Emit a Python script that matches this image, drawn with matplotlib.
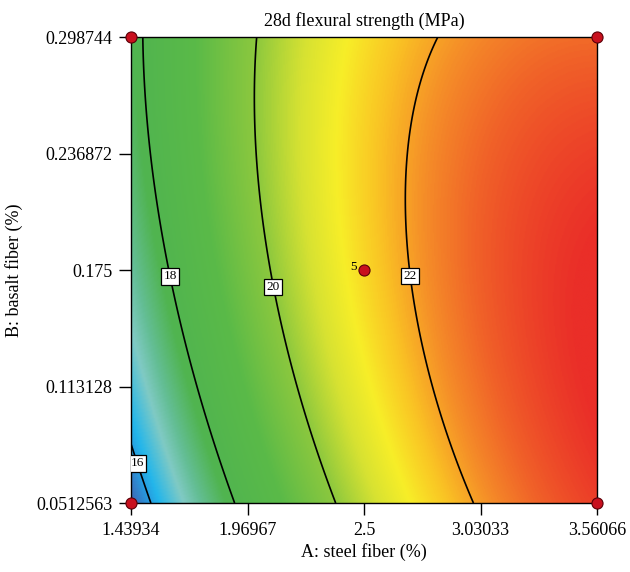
import numpy as np
import matplotlib
matplotlib.use('Agg')
import matplotlib.pyplot as plt
from matplotlib.colors import LinearSegmentedColormap

plt.rcParams['font.family'] = ['Liberation Serif', 'DejaVu Serif']

# axis ranges / ticks (real units)
steel_ticks  = [1.43934, 1.96967, 2.5, 3.03033, 3.56066]
basalt_ticks = [0.0512563, 0.113128, 0.175, 0.236872, 0.298744]
steel_labels  = ['1.43934', '1.96967', '2.5', '3.03033', '3.56066']
basalt_labels = ['0.0512563', '0.113128', '0.175', '0.236872', '0.298744']

# quadratic response surface in coded units
coef_names = ['const', 'A', 'B', 'AB', 'A2', 'B2']
coef_vals  = [21.44, 3.10, 0.44, -0.70, -1.20, -0.52]

levels = [16, 18, 20, 22]

# design points
pts_steel  = [1.43934, 3.56066, 1.43934, 3.56066, 2.5]
pts_basalt = [0.0512563, 0.0512563, 0.298744, 0.298744, 0.175]
center_reps = '5'

# label spots for the contour values
label_spots = [(1.4830, 0.0730), (1.6260, 0.1718), (2.0903, 0.1660), (2.7140, 0.1718)]


def surface(A, B):
    c = dict(zip(coef_names, coef_vals))
    a = (A - 2.5) / 1.06066
    b = (B - 0.175) / 0.123744
    return (c['const'] + c['A'] * a + c['B'] * b + c['AB'] * a * b
            + c['A2'] * a ** 2 + c['B2'] * b ** 2)


xs = np.linspace(steel_ticks[0], steel_ticks[-1], 400)
ys = np.linspace(basalt_ticks[0], basalt_ticks[-1], 400)
X, Y = np.meshgrid(xs, ys)
Z = surface(X, Y)

# design-expert style colours
anchors = [
    (15.4, (68, 92, 170)),
    (15.9, (40, 150, 220)),
    (16.2, (35, 182, 235)),
    (16.8, (128, 202, 196)),
    (17.2, (100, 190, 150)),
    (17.8, (80, 180, 80)),
    (19.0, (90, 186, 72)),
    (20.0, (140, 200, 62)),
    (20.7, (215, 226, 50)),
    (21.2, (247, 238, 40)),
    (21.7, (250, 196, 36)),
    (22.2, (245, 142, 40)),
    (22.7, (240, 95, 40)),
    (23.3, (234, 46, 40)),
]
vmin, vmax = anchors[0][0], anchors[-1][0]
cmap = LinearSegmentedColormap.from_list(
    'de', [((v - vmin) / (vmax - vmin), tuple(np.array(c) / 255.)) for v, c in anchors])

fig = plt.figure(figsize=(6.3, 5.72), dpi=100)
ax = fig.add_axes([131/630., 69/572., 466/630., 466/572.])

ax.imshow(Z, origin='lower', aspect='auto', cmap=cmap, vmin=vmin, vmax=vmax,
          extent=[xs[0], xs[-1], ys[0], ys[-1]], interpolation='bilinear')
cs = ax.contour(X, Y, Z, levels=levels, colors='black', linewidths=1.2)
labs = ax.clabel(cs, fmt='%d', fontsize=9.5, inline=False, manual=label_spots)
for t in labs:
    t.set_rotation(0)
    t.set_bbox(dict(boxstyle='square,pad=0.18', facecolor='white', edgecolor='black', linewidth=0.9))

ax.plot(pts_steel, pts_basalt, 'o', ms=8, mfc='#c8101e', mec='#5a0008', mew=0.8, clip_on=False, zorder=5)
ax.text(2.5 - 0.035, 0.1765, center_reps, fontsize=9.5, ha='right', va='center')

ax.set_xlim(steel_ticks[0], steel_ticks[-1])
ax.set_ylim(basalt_ticks[0], basalt_ticks[-1])
ax.set_xticks(steel_ticks)
ax.set_xticklabels(steel_labels)
ax.set_yticks(basalt_ticks)
ax.set_yticklabels(basalt_labels)
ax.tick_params(direction='out', length=8.5, width=1, labelsize=13, pad=5)
for s in ax.spines.values():
    s.set_linewidth(1)

ax.set_xlabel('A: steel fiber (%)', fontsize=13, labelpad=3)
ax.set_ylabel('B: basalt fiber (%)', fontsize=13, labelpad=9)
ax.set_title('28d flexural strength (MPa)', fontsize=13, pad=8)

fig.savefig('out.png', dpi=100)
